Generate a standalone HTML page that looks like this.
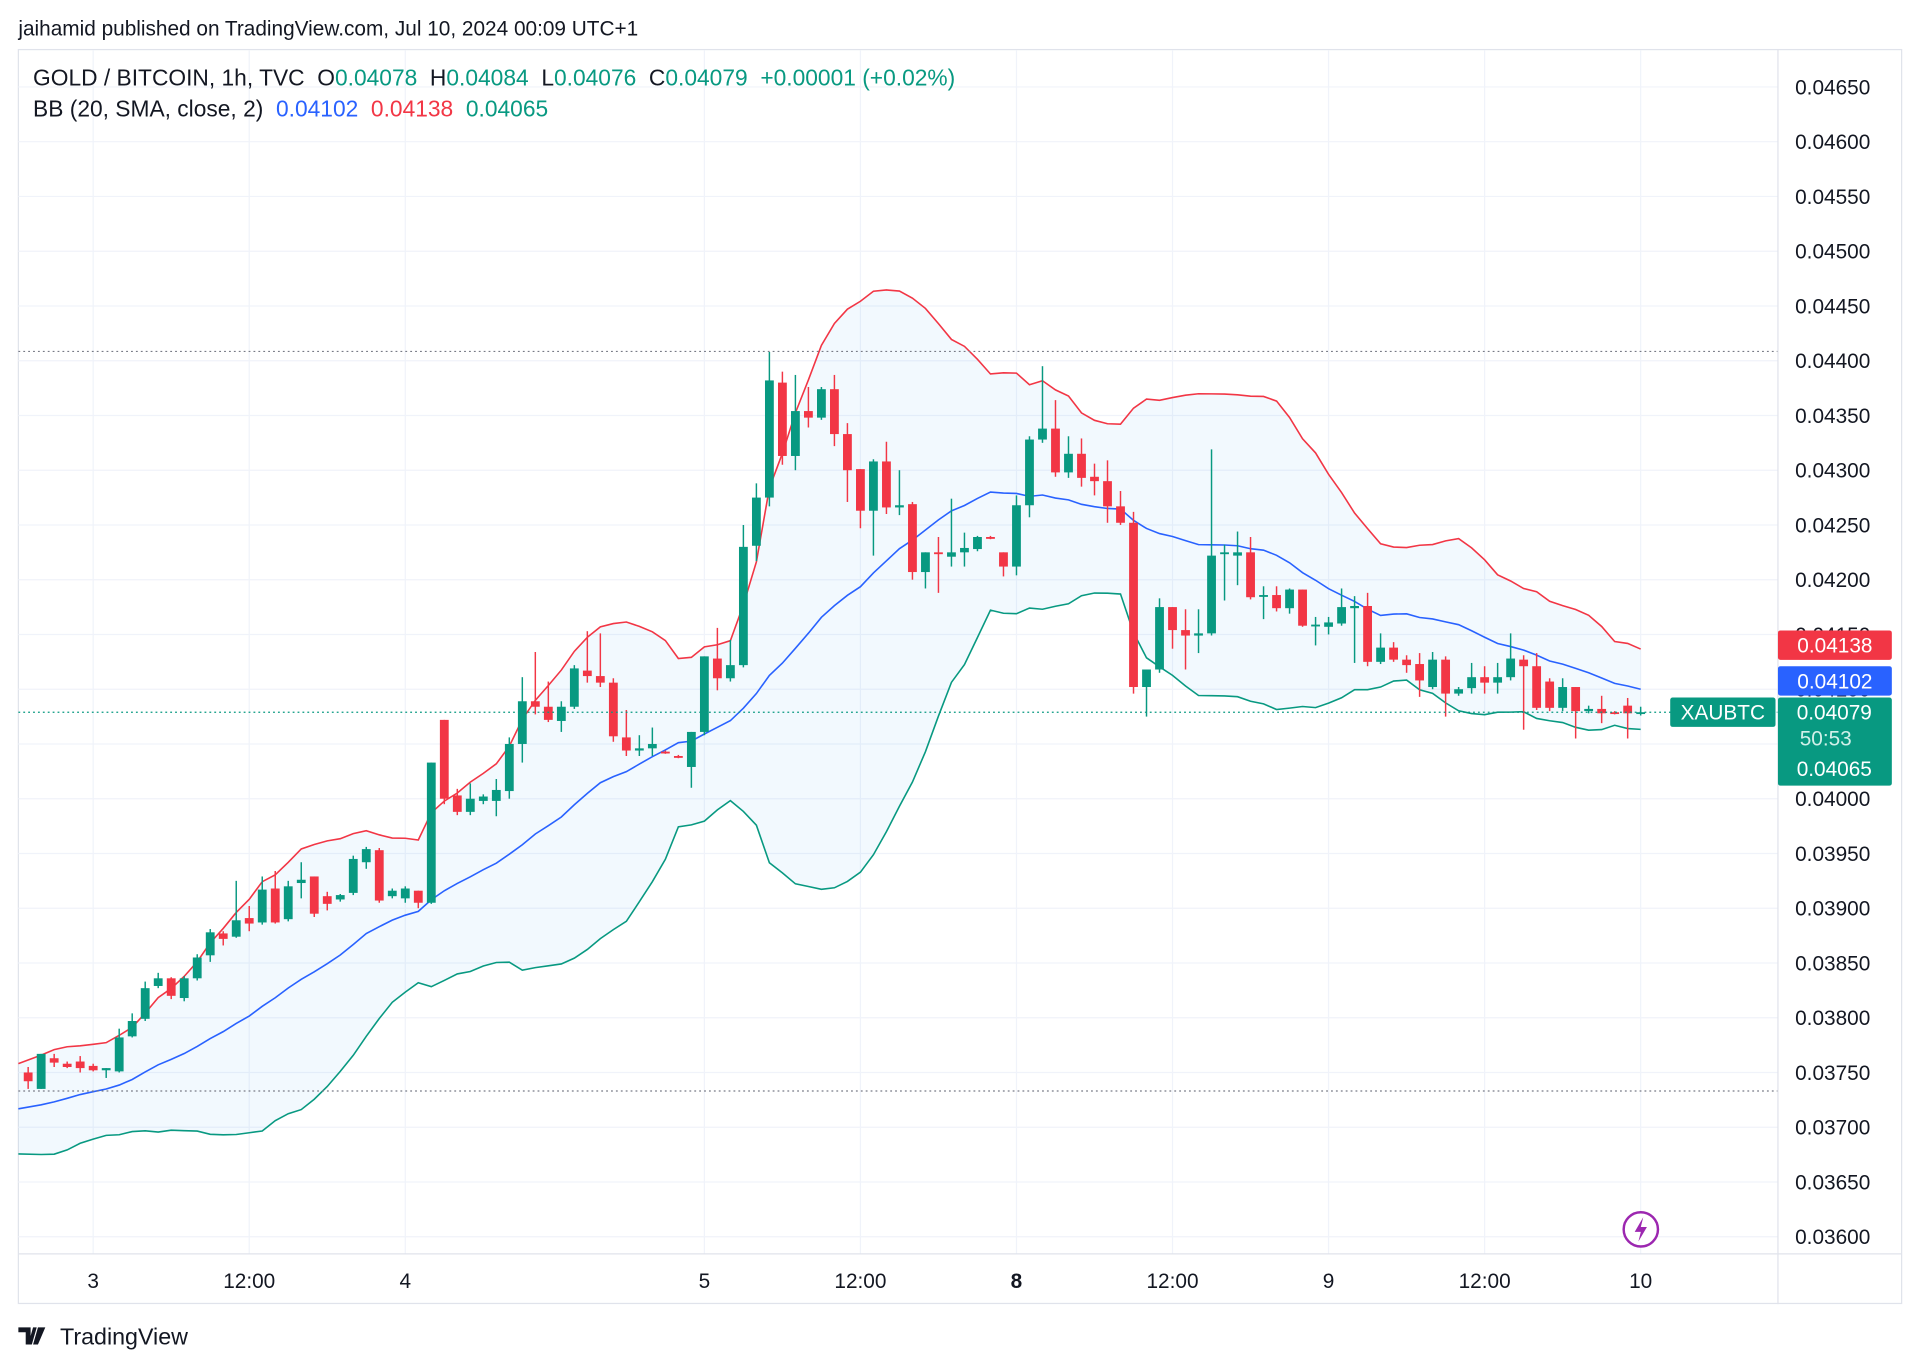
<!DOCTYPE html>
<html><head><meta charset="utf-8"><style>
html,body{margin:0;padding:0;background:#fff;}
svg{display:block;font-family:"Liberation Sans",sans-serif;}
.pre{white-space:pre;}
</style></head><body>
<svg id="chart" width="1920" height="1368" viewBox="0 0 1568 1117.2" preserveAspectRatio="none" xmlns="http://www.w3.org/2000/svg">
<rect x="0" y="0" width="1568" height="1117.2" fill="#fff"/>
<text x="15" y="29" font-size="17" fill="#131722">jaihamid published on TradingView.com, Jul 10, 2024 00:09 UTC+1</text>
<rect x="15" y="40.5" width="1538" height="1024" fill="none" stroke="#e0e3eb" stroke-width="1"/>
<g id="grid"></g>
<g id="bands"></g>
<g id="candles"></g>
<line x1="15" x2="1452" y1="287" y2="287" stroke="#787b86" stroke-dasharray="1.5 2.5" stroke-width="1"/>
<line x1="15" x2="1452" y1="891" y2="891" stroke="#787b86" stroke-dasharray="1.5 2.5" stroke-width="1"/>
<line x1="1452" x2="1452" y1="40" y2="1065" stroke="#e0e3eb"/>
<line x1="15" x2="1553" y1="1024" y2="1024" stroke="#e0e3eb"/>
<g id="yaxis"></g>
<g id="xaxis"></g>
<g id="tags"></g>
<g font-size="18.6">
<text class="pre" xml:space="preserve" x="27" y="70" fill="#131722">GOLD / BITCOIN, 1h, TVC  O<tspan fill="#089981">0.04078</tspan>  H<tspan fill="#089981">0.04084</tspan>  L<tspan fill="#089981">0.04076</tspan>  C<tspan fill="#089981">0.04079  +0.00001 (+0.02%)</tspan></text>
<text class="pre" xml:space="preserve" x="27" y="95" fill="#131722">BB (20, SMA, close, 2)  <tspan fill="#2962ff">0.04102</tspan>  <tspan fill="#f23645">0.04138</tspan>  <tspan fill="#089981">0.04065</tspan></text>
</g>
<g>
<circle cx="1340" cy="1004" r="14" fill="#fff" stroke="#9c27b0" stroke-width="2"/>
<path d="M1342 994 L1335 1006 L1340 1006 L1338 1014 L1345 1002 L1340 1002 Z" fill="#9c27b0"/>
</g>
<g>
<path d="M15 1084 h10 v14 h-4 v-10 h-6 Z M27 1084 h3 l-4 14 h-3 Z M31 1084 h6 l-6 14 h-4 Z" fill="#131722"/>
<text x="49" y="1098" font-size="19" fill="#131722">TradingView</text>
</g>
</svg>
<script>
const prehistoryCloses=[0.03695,0.03705,0.03690,0.03685,0.03700,0.03705,0.03710,0.03695,0.03690,0.03705,0.03720,0.03730,0.03725,0.03735,0.03745,0.03740,0.03750,0.03740,0.03730];
const opens=[0.03750,0.03735,0.03763,0.03758,0.03760,0.03756,0.03752,0.03751,0.03783,0.03799,0.03829,0.03836,0.03818,0.03836,0.03857,0.03877,0.03874,0.03891,0.03887,0.03918,0.03890,0.03923,0.03929,0.03911,0.03908,0.03914,0.03942,0.03953,0.03911,0.03909,0.03916,0.03905,0.04072,0.04003,0.03988,0.03998,0.03998,0.04007,0.04050,0.04089,0.04084,0.04071,0.04084,0.04117,0.04112,0.04106,0.04056,0.04044,0.04046,0.04043,0.04039,0.04029,
0.04061,0.04128,0.04110,0.04122,0.04231,0.04275,0.04380,0.04313,0.04354,0.04348,0.04374,0.04333,0.04301,0.04263,0.04308,0.04266,0.04269,0.04207,0.04225,0.04221,0.04225,0.04228,0.04239,0.04225,0.04212,0.04268,0.04328,0.04338,0.04298,0.04315,0.04294,0.04290,0.04267,0.04252,0.04102,0.04118,0.04175,0.04154,0.04149,0.04151,0.04224,0.04222,0.04225,0.04185,0.04186,0.04174,0.04191,0.04159,0.04157,0.04160,0.04174,0.04176,0.04125,0.04138,0.04127,0.04123,0.04102,0.04127,0.04096,0.04101,0.04111,0.04106,0.04111,0.04127,0.04121,0.04107,0.04083,0.04102,0.04080,0.04082,0.04079,0.04085,0.04078];
const highs=[0.03755,0.03767,0.03767,0.03760,0.03765,0.03758,0.03754,0.03790,0.03804,0.03833,0.03841,0.03837,0.03838,0.03858,0.03881,0.03879,0.03925,0.03902,0.03929,0.03934,0.03925,0.03942,0.03929,0.03915,0.03913,0.03948,0.03956,0.03955,0.03918,0.03920,0.03916,0.04033,0.04072,0.04009,0.04014,0.04004,0.04018,0.04056,0.04111,0.04134,0.04107,0.04089,0.04122,0.04153,0.04151,0.04110,0.04081,0.04058,0.04065,0.04044,0.04040,0.04061,
0.04130,0.04156,0.04145,0.04250,0.04288,0.04408,0.04390,0.04387,0.04376,0.04376,0.04387,0.04343,0.04301,0.04310,0.04326,0.04300,0.04271,0.04225,0.04239,0.04274,0.04243,0.04240,0.04240,0.04225,0.04277,0.04331,0.04395,0.04364,0.04331,0.04329,0.04306,0.04309,0.04281,0.04262,0.04118,0.04183,0.04175,0.04173,0.04173,0.04319,0.04232,0.04244,0.04239,0.04194,0.04194,0.04192,0.04191,0.04166,0.04166,0.04192,0.04185,0.04188,0.04151,0.04143,0.04131,0.04133,0.04134,0.04130,0.04102,0.04124,0.04121,0.04124,0.04151,0.04131,0.04133,0.04110,0.04110,0.04102,0.04085,0.04094,0.04080,0.04092,0.04084];
const lows=[0.03735,0.03735,0.03755,0.03754,0.03750,0.03751,0.03745,0.03750,0.03782,0.03797,0.03827,0.03817,0.03815,0.03834,0.03851,0.03866,0.03873,0.03879,0.03885,0.03886,0.03888,0.03909,0.03892,0.03898,0.03906,0.03912,0.03936,0.03905,0.03909,0.03905,0.03900,0.03904,0.03995,0.03985,0.03985,0.03995,0.03984,0.04000,0.04033,0.04077,0.04070,0.04061,0.04082,0.04106,0.04102,0.04052,0.04039,0.04039,0.04039,0.04041,0.04037,0.04010,
0.04058,0.04099,0.04107,0.04120,0.04217,0.04267,0.04305,0.04300,0.04339,0.04346,0.04322,0.04271,0.04247,0.04222,0.04260,0.04259,0.04200,0.04192,0.04188,0.04212,0.04212,0.04226,0.04237,0.04203,0.04204,0.04257,0.04325,0.04294,0.04293,0.04285,0.04277,0.04252,0.04250,0.04096,0.04075,0.04115,0.04137,0.04118,0.04133,0.04149,0.04181,0.04195,0.04182,0.04164,0.04171,0.04169,0.04157,0.04140,0.04150,0.04158,0.04124,0.04121,0.04123,0.04125,0.04115,0.04093,0.04100,0.04075,0.04094,0.04096,0.04096,0.04096,0.04108,0.04063,0.04081,0.04080,0.04080,0.04055,0.04078,0.04069,0.04077,0.04055,0.04076];
const closes=[0.03742,0.03767,0.03759,0.03755,0.03754,0.03752,0.03754,0.03782,0.03797,0.03827,0.03836,0.03820,0.03836,0.03855,0.03878,0.03872,0.03889,0.03886,0.03917,0.03887,0.03920,0.03926,0.03895,0.03904,0.03912,0.03945,0.03954,0.03907,0.03916,0.03918,0.03905,0.04033,0.04000,0.03988,0.04000,0.04002,0.04008,0.04050,0.04089,0.04084,0.04072,0.04084,0.04119,0.04112,0.04106,0.04057,0.04044,0.04046,0.04050,0.04042,0.04038,0.04061,
0.04130,0.04110,0.04122,0.04230,0.04275,0.04382,0.04313,0.04354,0.04348,0.04374,0.04333,0.04300,0.04263,0.04308,0.04266,0.04268,0.04207,0.04225,0.04224,0.04225,0.04229,0.04239,0.04238,0.04212,0.04268,0.04328,0.04338,0.04298,0.04315,0.04293,0.04290,0.04267,0.04252,0.04102,0.04118,0.04175,0.04154,0.04149,0.04151,0.04222,0.04225,0.04225,0.04184,0.04186,0.04174,0.04191,0.04158,0.04159,0.04161,0.04175,0.04176,0.04125,0.04138,0.04127,0.04122,0.04108,0.04127,0.04096,0.04100,0.04111,0.04106,0.04111,0.04128,0.04121,0.04083,0.04083,0.04102,0.04080,0.04082,0.04078,0.04078,0.04078,0.04079];
const priceTicks=[0.0465,0.046,0.0455,0.045,0.0445,0.044,0.0435,0.043,0.0425,0.042,0.0415,0.041,0.0405,0.04,0.0395,0.039,0.0385,0.038,0.0375,0.037,0.0365,0.036];
const timeLabels=["3","12:00","4","5","12:00","8","12:00","9","12:00","10"];
const timeLabelIndex=[5,17,29,52,64,76,88,100,112,124];
const lastClose=0.04079, bbMid=0.04102, bbUpper=0.04138, bbLower=0.04065;

const NS="http://www.w3.org/2000/svg";
function y(p){return 1010-(p-0.036)/0.0005*44.714;}
function x(i){return 23+i*10.62;}
function mk(tag,attrs,parent){const e=document.createElementNS(NS,tag);for(const k in attrs)e.setAttribute(k,attrs[k]);parent.appendChild(e);return e;}
const grid=document.getElementById('grid'),yax=document.getElementById('yaxis'),xax=document.getElementById('xaxis');
priceTicks.forEach(p=>{
  const l=mk('line',{x1:15,x2:1452,y1:y(p),y2:y(p),stroke:'#f0f3fa','stroke-width':1},grid);
  
  
  const t=mk('text',{x:1466,y:y(p)+6,'font-size':17,fill:'#131722'},yax);
  t.textContent=p.toFixed(5);
  
  
});
timeLabels.forEach((s,k)=>{
  const xi=x(timeLabelIndex[k]);
  const l=mk('line',{x1:xi,x2:xi,y1:41,y2:1024,stroke:'#f0f3fa','stroke-width':1},grid);
  
  
  const t=mk('text',{x:xi,y:1052,'font-size':17,fill:'#131722','text-anchor':'middle','font-weight':s==='8'?'bold':'normal'},xax);
  t.textContent=s;
  
  
});
const all=prehistoryCloses.concat(closes);const up=[],mid=[],lo=[];
for(let i=0;i<closes.length;i++){const j=i+prehistoryCloses.length;const w=all.slice(j-19,j+1);const m=w.reduce((a,b)=>a+b,0)/20;const sd=Math.sqrt(w.reduce((a,b)=>a+(b-m)*(b-m),0)/20);mid.push(m);up.push(m+2*sd);lo.push(m-2*sd);}
const bands=document.getElementById('bands');
const ext=i=>i===0?15:x(i);
let fillD='M'+up.map((v,i)=>ext(i)+' '+y(v)).join(' L ')+' L '+lo.map((v,i)=>ext(i)+' '+y(v)).reverse().join(' L ')+' Z';
const f=mk('path',{d:fillD,fill:'rgba(33,150,243,0.06)'},bands);


[[up,'#f23645','bb-upper-line'],[mid,'#2962ff','bb-basis-line'],[lo,'#089981','bb-lower-line']].forEach(([arr,c,n])=>{
  const p=mk('path',{d:'M'+arr.map((v,i)=>ext(i)+' '+y(v)).join(' L '),fill:'none',stroke:c,'stroke-width':1.3},bands);
  
  
});
const cg=document.getElementById('candles');
closes.forEach((c,i)=>{
  const o=opens[i],col=c>=o?'#089981':'#f23645',cx=x(i);
  const g=mk('g',{},cg);
  
  
  mk('line',{x1:cx,x2:cx,y1:y(highs[i]),y2:y(lows[i]),stroke:col,'stroke-width':1.2},g);
  const t=Math.min(y(o),y(c)),h=Math.max(1.5,Math.abs(y(o)-y(c)));
  mk('rect',{x:cx-3.6,y:t,width:7.2,height:h,fill:col},g);
});
const cl=mk('line',{x1:15,x2:1452,y1:y(lastClose),y2:y(lastClose),stroke:'#089981','stroke-dasharray':'1.5 2.5','stroke-width':1},cg);


const tg=document.getElementById('tags');
function tag(name,x0,w,yc,h,bg,txt){const g=mk('g',{},tg);mk('rect',{x:x0,y:yc-h/2,width:w,height:h,fill:bg,rx:2},g);const t=mk('text',{x:x0+w/2,y:yc+6,'font-size':17,fill:'#fff','text-anchor':'middle'},g);t.textContent=txt;return g;}
tag('bb-upper-tag',1452,93,y(bbUpper)-2,24,'#f23645',bbUpper.toFixed(5));
tag('bb-basis-tag',1452,93,y(bbMid)-5,24,'#2962ff',bbMid.toFixed(5));
const g2=mk('g',{},tg);


mk('rect',{x:1452,y:y(lastClose)-12,width:93,height:72,fill:'#089981',rx:2},g2);
const t1=mk('text',{x:1498,y:y(lastClose)+6,'font-size':17,fill:'#fff','text-anchor':'middle'},g2);t1.textContent=lastClose.toFixed(5);
const t2=mk('text',{x:1491,y:y(lastClose)+27,'font-size':17,fill:'#d1f0e9','text-anchor':'middle'},g2);t2.textContent='50:53';
const t3=mk('text',{x:1498,y:y(lastClose)+52,'font-size':17,fill:'#fff','text-anchor':'middle'},g2);t3.textContent=bbLower.toFixed(5);
tag('symbol-tag',1364,86,y(lastClose),24,'#089981','XAUBTC');
</script>
</body></html>
